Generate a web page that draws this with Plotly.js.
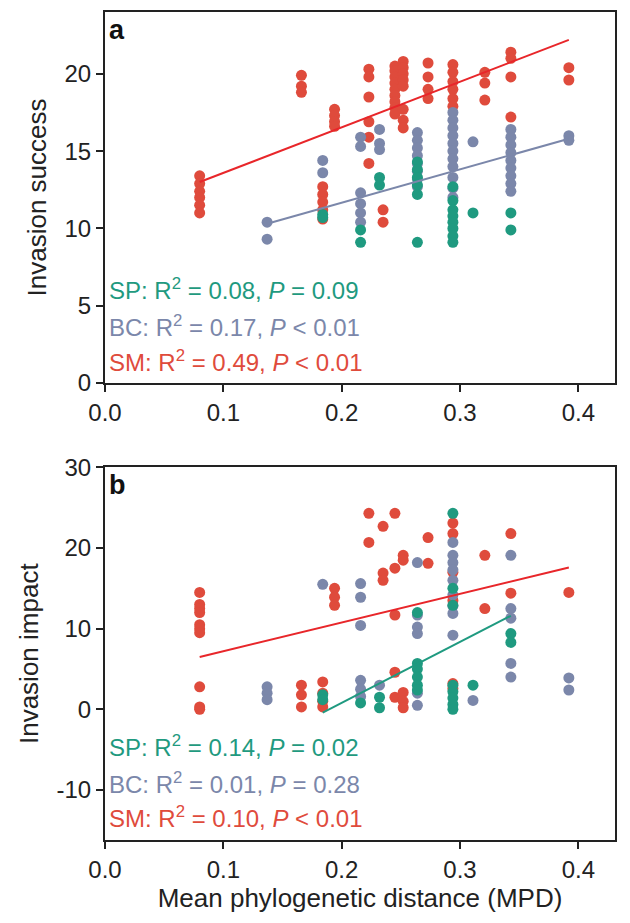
<!DOCTYPE html>
<html>
<head>
<meta charset="utf-8">
<script src="https://cdn.plot.ly/plotly-3.0.1.min.js"></script>
<style>body{margin:0;}</style>
</head>
<body>
<div id="myDiv" style="width:630px;height:923px;"></div>
<script>
// panel a: invasion success
var aSMx = [0.080,0.080,0.080,0.080,0.080,0.080, 0.166,0.166,0.166, 0.184,0.184,0.184,0.184,0.184, 0.194,0.194,0.194,0.194,
  0.223,0.223,0.223,0.223,0.223,0.223, 0.235,0.235,
  0.245,0.245,0.245,0.245,0.245,0.245,0.245,0.245,0.245, 0.252,0.252,0.252,0.252,0.252,0.252,0.252,0.252,
  0.273,0.273,0.273,0.273, 0.294,0.294,0.294,0.294,0.294,0.294, 0.321,0.321,0.321, 0.343,0.343,0.343,0.343, 0.392,0.392];
var aSMy = [13.4,12.9,12.4,12.0,11.5,11.0, 19.9,19.2,18.8, 12.7,12.2,11.7,11.2,10.6, 17.7,17.3,16.9,16.6,
  20.3,19.8,18.5,16.9,15.9,14.2, 11.2,10.4,
  20.5,20.2,19.8,19.4,19.0,18.6,18.2,17.8,17.4, 20.8,20.4,20.0,19.6,19.2,17.7,17.0,16.5,
  20.7,19.8,19.0,18.4, 20.6,20.1,19.5,19.0,18.4,17.9, 20.1,19.4,18.3, 21.4,21.0,19.8,17.2, 20.4,19.6];
var aBCx = [0.137,0.137, 0.184,0.184, 0.216,0.216,0.216,0.216,0.216,0.216, 0.232,0.232,0.232,
  0.264,0.264,0.264,0.264,0.264,0.264,0.264,0.264,
  0.294,0.294,0.294,0.294,0.294,0.294,0.294,0.294,0.294,0.294,0.294, 0.311,
  0.343,0.343,0.343,0.343,0.343,0.343,0.343,0.343,0.343, 0.392,0.392];
var aBCy = [10.4,9.3, 14.4,13.6, 15.9,15.3,12.3,11.6,11.0,10.4, 16.4,15.5,15.1,
  16.2,15.7,15.2,14.7,14.2,13.7,13.2,12.7,
  17.5,17.0,16.5,16.0,15.5,15.0,14.5,14.0,13.3,12.6,12.0, 15.6,
  16.4,15.9,15.4,14.9,14.4,13.9,13.4,12.9,12.4, 16.0,15.7];
var aSPx = [0.184,0.184, 0.216,0.216, 0.232,0.232, 0.264,0.264,0.264,0.264,0.264,0.264,
  0.294,0.294,0.294,0.294,0.294,0.294,0.294,0.294, 0.311, 0.343,0.343];
var aSPy = [10.9,10.7, 9.9,9.1, 13.3,12.8, 14.3,13.8,13.3,12.8,12.2,9.1,
  12.7,11.8,11.2,10.8,10.4,10.0,9.5,9.1, 11.0, 11.0,9.9];
var aFitSMx = [0.080,0.392], aFitSMy = [13.0,22.2];
var aFitBCx = [0.137,0.392], aFitBCy = [10.3,15.8];

// panel b: invasion impact
var bSMx = [0.080,0.080,0.080,0.080,0.080,0.080,0.080,0.080,0.080,0.080, 0.166,0.166,0.166, 0.184,0.184,0.184,0.184,
  0.194,0.194,0.194, 0.223,0.223, 0.235,0.235,0.235, 0.245,0.245,0.245,0.245,0.245, 0.252,0.252,0.252,0.252,0.252,
  0.273,0.273, 0.294,0.294,0.294,0.294,0.294,0.294, 0.321,0.321, 0.343,0.343, 0.392];
var bSMy = [14.5,13.0,12.5,12.0,10.5,10.0,9.5,2.8,0.3,0.0, 3.0,1.8,0.3, 3.4,2.0,1.0,0.3,
  15.0,13.9,12.9, 24.3,20.7, 22.7,16.9,16.0, 24.3,17.5,11.7,4.6,1.5, 19.1,18.5,2.1,1.0,0.2,
  21.3,18.1, 23.1,21.8,17.0,13.5,3.2,2.6, 19.1,12.5, 21.8,14.4, 14.5];
var bBCx = [0.137,0.137,0.137, 0.184, 0.216,0.216,0.216,0.216,0.216,0.216, 0.232,
  0.264,0.264,0.264,0.264,0.264,0.264,
  0.294,0.294,0.294,0.294,0.294,0.294,0.294,0.294,0.294, 0.311,
  0.343,0.343,0.343,0.343,0.343, 0.392,0.392];
var bBCy = [2.8,2.0,1.2, 15.5, 15.6,13.9,10.4,3.6,2.5,1.6, 3.0,
  18.2,11.7,10.2,9.4,2.0,0.5,
  20.7,19.1,18.2,17.3,16.0,14.2,12.8,11.9,9.2, 1.1,
  19.1,12.5,11.3,5.7,4.0, 3.9,2.4];
var bSPx = [0.184,0.184, 0.216, 0.232,0.232, 0.264,0.264,0.264,0.264,0.264,0.264,
  0.294,0.294,0.294,0.294,0.294,0.294,0.294,0.294, 0.311, 0.343,0.343];
var bSPy = [1.8,1.2, 0.8, 1.5,0.2, 12.0,5.7,5.0,4.0,3.0,2.4,
  24.3,15.0,12.9,3.0,2.2,1.4,0.6,0.0, 3.0, 9.4,8.3];
var bFitSMx = [0.080,0.392], bFitSMy = [6.5,17.6];
var bFitSPx = [0.184,0.343], bFitSPy = [-0.4,11.6];

var xTicks = [0, 0.1, 0.2, 0.3, 0.4], xLabels = ['0.0','0.1','0.2','0.3','0.4'];
var bTicks = [-10, 0, 10, 20, 30], bLabels = ['-10','0','10','20','30'];

var red = '#df4b3c', grey = '#7b87aa', green = '#1f9a80';

function pts(x, y, c, xa, ya) {
  return {x: x, y: y, xaxis: xa, yaxis: ya, type: 'scatter', mode: 'markers',
    marker: {color: c, size: 11}, hoverinfo: 'skip'};
}
function fit(x, y, c, xa, ya) {
  return {x: x, y: y, xaxis: xa, yaxis: ya, type: 'scatter', mode: 'lines',
    line: {color: c, width: 2}, hoverinfo: 'skip'};
}

var data = [
  pts(aSMx, aSMy, red, 'x', 'y'), pts(aBCx, aBCy, grey, 'x', 'y'), pts(aSPx, aSPy, green, 'x', 'y'),
  fit(aFitSMx, aFitSMy, '#e8262a', 'x', 'y'), fit(aFitBCx, aFitBCy, grey, 'x', 'y'),
  pts(bSMx, bSMy, red, 'x2', 'y2'), pts(bBCx, bBCy, grey, 'x2', 'y2'), pts(bSPx, bSPy, green, 'x2', 'y2'),
  fit(bFitSMx, bFitSMy, '#e8262a', 'x2', 'y2'), fit(bFitSPx, bFitSPy, green, 'x2', 'y2')
];

var axisBase = {showgrid: false, zeroline: false, showline: true, mirror: true, linecolor: '#222', linewidth: 2,
  ticks: 'outside', ticklen: 7, tickwidth: 2, tickcolor: '#222', tickfont: {size: 24, color: '#222'}};
function ax(extra) { return Object.assign({}, axisBase, extra); }

var annFont = 24;
function stat(text, c, y, yref) {
  return {xref: 'x' + (yref === 'y' ? '' : '2'), yref: yref, x: 0.002, y: y, xanchor: 'left', yanchor: 'middle',
    text: text, showarrow: false, font: {size: annFont, color: c}};
}

var layout = {
  width: 630, height: 923,
  margin: {l: 105, r: 15, t: 12, b: 83},
  showlegend: false,
  paper_bgcolor: '#fff', plot_bgcolor: '#fff',
  font: {family: 'Liberation Sans, Arial, sans-serif', color: '#222'},
  xaxis: ax({range: [0, 0.431], tickvals: xTicks, ticktext: xLabels, anchor: 'y'}),
  yaxis: ax({domain: [0.552, 1], range: [0, 24], tickvals: [0, 5, 10, 15, 20], anchor: 'x',
    title: {text: 'Invasion success', font: {size: 26}, standoff: 10}}),
  xaxis2: ax({range: [0, 0.431], tickvals: xTicks, ticktext: xLabels, anchor: 'y2',
    title: {text: 'Mean phylogenetic distance (MPD)', font: {size: 26}, standoff: 6}}),
  yaxis2: ax({domain: [0, 0.450], range: [-16.2, 30], tickvals: bTicks, ticktext: bLabels, anchor: 'x2',
    title: {text: 'Invasion impact', font: {size: 26}, standoff: 10}}),
  annotations: [
    {xref: 'paper', yref: 'paper', x: 0.003, y: 0.999, xanchor: 'left', yanchor: 'top', text: '<b>a</b>',
      showarrow: false, font: {size: 27, color: '#111'}},
    {xref: 'paper', yref: 'paper', x: 0.003, y: 0.449, xanchor: 'left', yanchor: 'top', text: '<b>b</b>',
      showarrow: false, font: {size: 27, color: '#111'}},
    stat('SP: R<sup>2</sup> = 0.08, <i>P</i> = 0.09', green, 6.1, 'y'),
    stat('BC: R<sup>2</sup> = 0.17, <i>P</i> &lt; 0.01', grey, 3.7, 'y'),
    stat('SM: R<sup>2</sup> = 0.49, <i>P</i> &lt; 0.01', red, 1.4, 'y'),
    stat('SP: R<sup>2</sup> = 0.14, <i>P</i> = 0.02', green, -4.6, 'y2'),
    stat('BC: R<sup>2</sup> = 0.01, <i>P</i> = 0.28', grey, -9.1, 'y2'),
    stat('SM: R<sup>2</sup> = 0.10, <i>P</i> &lt; 0.01', red, -13.3, 'y2')
  ]
};

Plotly.newPlot('myDiv', data, layout, {staticPlot: true});
</script>
</body>
</html>
